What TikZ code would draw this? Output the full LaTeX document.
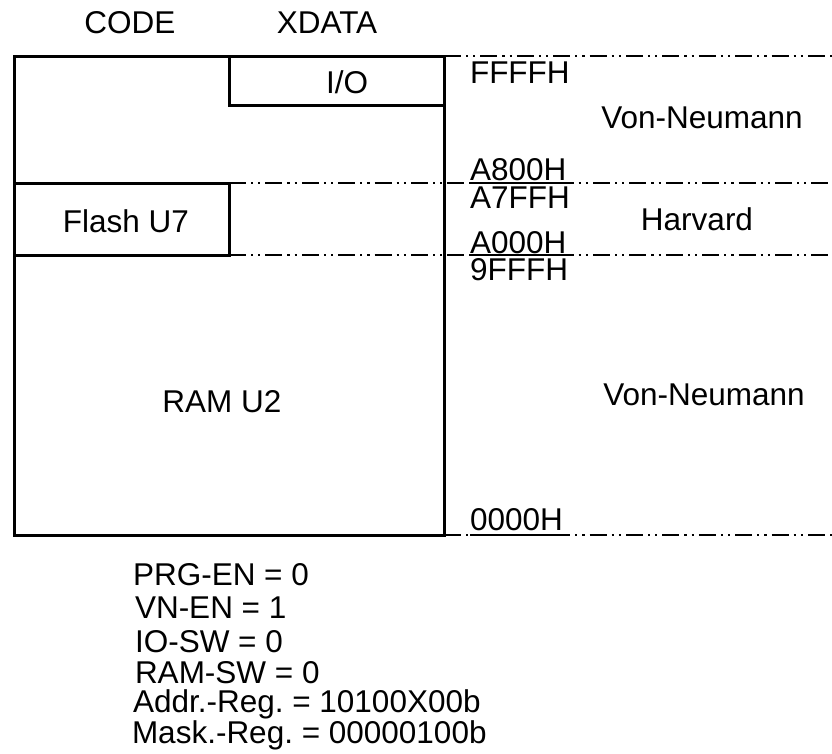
\documentclass[tikz,border=0pt]{standalone}
\usepackage{fontspec}
\setmainfont{Liberation Sans}
\frenchspacing
\begin{document}
\begin{tikzpicture}[x=1pt,y=-1pt,
  box/.style={line width=3pt,line cap=rect},
  dashdot/.style={line width=1.5pt,dash pattern=on 17pt off 5pt on 2.2pt off 5pt on 2.2pt off 5pt},
  uline/.style={line width=1.5pt},
  lbl/.style={inner sep=0pt,outer sep=0pt,font=\fontsize{31.5}{36}\selectfont},
  lblw/.style={lbl,anchor=base west},
  lblc/.style={lbl,anchor=base}]
\useasboundingbox[fill=white] (0,0) rectangle (832,753);

% coordinates
\coordinate (tl) at (14,56);
\coordinate (br) at (444,535);
\coordinate (tr) at (444,56);
\coordinate (bl444) at (444,535);
\coordinate (m1l) at (229,183);
\coordinate (m2l) at (229,255);
\coordinate (e0) at (832,56);
\coordinate (e1) at (832,183);
\coordinate (e2) at (832,255);
\coordinate (e3) at (832,535);

% dash-dot separators
\draw[dashdot] (tr) -- (e0);
\draw[dashdot] (m1l) -- (e1);
\draw[dashdot] (m2l) -- (e2);
\draw[dashdot] (bl444) -- (e3);

% boxes
\draw[box] (tl) rectangle (br);
\draw[box] (229,56) rectangle (444,105);
\draw[box] (14,183) rectangle (229,255);

% column heads
\node[lblc] (code) at (130,33) {CODE};
\node[lblc] (xdata) at (327,33) {XDATA};

% memory blocks
\node[lblc] (io) at (347,93) {I/O};
\node[lblc] (flash) at (126,232) {Flash U7};
\node[lblc] (ram) at (222,412) {RAM U2};

% addresses
\node[lblw] (ffff) at (470,83) {FFFFH};
\node[lblw] (a800) at (470,180) {A800H};
\node[lblw] (a7ff) at (470,208) {A7FFH};
\node[lblw] (a000) at (470,253) {A000H};
\node[lblw] (9fff) at (470,280) {9FFFH};
\node[lblw] (zero) at (470,530) {0000H};

\draw[uline] ([yshift=-3pt]a800.base west) -- ([yshift=-3pt]a800.base east);
\draw[uline] ([yshift=-2pt]a000.base west) -- ([yshift=-2pt]a000.base east);
\draw[uline] ([yshift=-5pt]zero.base west) -- ([yshift=-5pt]zero.base east);

% modes
\node[lblc] (vn1) at (702,128) {Von-Neumann};
\node[lblc] (harv) at (697,230) {Harvard};
\node[lblc] (vn2) at (704,405) {Von-Neumann};

% settings
\node[lblw] (s1) at (133,585) {PRG-EN = 0};
\node[lblw] (s2) at (135,618) {VN-EN = 1};
\node[lblw] (s3) at (135,652) {IO-SW = 0};
\node[lblw] (s4) at (135,683) {RAM-SW = 0};
\node[lblw] (s5) at (133,712) {Addr.-Reg. = 10100X00b};
\node[lblw] (s6) at (132,743) {Mask.-Reg. = 00000100b};
\end{tikzpicture}
\end{document}
